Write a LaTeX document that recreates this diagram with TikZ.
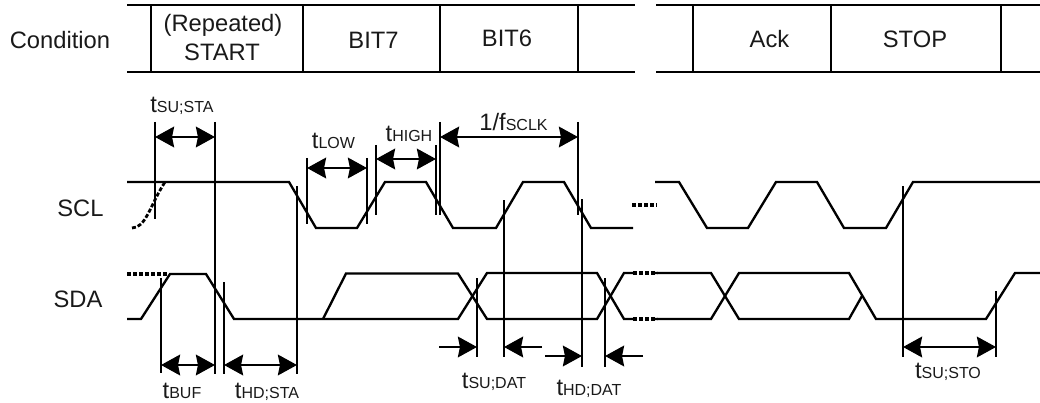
\documentclass[tikz,border=0pt]{standalone}
\usepackage{fontspec}
\setmainfont{Liberation Sans}
\usetikzlibrary{arrows.meta}
\newcommand{\bigtxt}{\fontsize{17.8pt}{21pt}\selectfont}
\newcommand{\smalltxt}{\fontsize{12pt}{14pt}\selectfont}
\newcommand{\tlab}[2]{{\bigtxt #1}{\smalltxt #2}}
\tikzset{
  sig/.style={line width=1.75pt,line join=miter,black},
  dashsig/.style={line width=2.1pt,black,dash pattern=on 3pt off 1.5pt},
  dashflat/.style={line width=2.7pt,black,dash pattern=on 3.2pt off 1.3pt},
  ext/.style={line width=1.65pt,black},
  dim/.style={line width=1.65pt,black,{Stealth[length=14.3pt,width=15.5pt,inset=1.5pt]}-{Stealth[length=14.3pt,width=15.5pt,inset=1.5pt]}},
  onedim/.style={line width=1.65pt,black,-{Stealth[length=14.3pt,width=15.5pt,inset=1.5pt]}},
  lab/.style={anchor=base,inner sep=0pt,outer sep=0pt,black!90},
}
\begin{document}
\begin{tikzpicture}[x=0.75pt,y=-0.75pt]
\useasboundingbox (0,0) rectangle (1040,403);
% condition table
\draw[sig] (127,5) -- (635,5) (127,72) -- (635,72);
\draw[sig] (656,5) -- (1040,5) (656,72) -- (1040,72);
\foreach \x in {151,303,440,578,693,831,1001} \draw[sig] (\x,5) -- (\x,72);
\node[lab] (cond) at (60,49) {\bigtxt Condition};
\node[lab] (rep) at (223,32) {\bigtxt (Repeated)};
\node[lab] (start) at (222,61) {\bigtxt START};
\node[lab] (b7) at (373.5,49) {\bigtxt BIT7};
\node[lab] (b6) at (507,47) {\bigtxt BIT6};
\node[lab] (ack) at (769.5,48) {\bigtxt Ack};
\node[lab] (stop) at (915,48) {\bigtxt STOP};
\node[lab] (scl) at (80.5,216) {\bigtxt SCL};
\node[lab] (sda) at (78,307) {\bigtxt SDA};
% SCL
\draw[sig] (127,182) -- (289,182) -- (316,228) -- (357,228) -- (385,182) -- (426,182) -- (453,228) -- (496,228) -- (523,182) -- (564,182) -- (591,228) -- (633,228);
\draw[dashflat] (632,205) -- (657,205);
\draw[sig] (655,182) -- (679,182) -- (707,228) -- (748,228) -- (776,182) -- (817,182) -- (844,228) -- (886,228) -- (913,182) -- (1040,182);
\draw[dashsig] (132,228) .. controls (146,228) and (150,205) .. (165,182);
% SDA
\draw[dashflat] (127,274) -- (167,274);
\draw[sig] (127,319) -- (141,319) -- (170,274) -- (206,274) -- (234,319) -- (458,319) -- (487,273) -- (597,273) -- (624,319) -- (634,319);
\draw[sig] (323,319) -- (346,273.5) -- (458,273.5) -- (487,319) -- (597,319) -- (624,273) -- (634,273);
\draw[dashflat] (633,273) -- (657,273) (633,319) -- (657,319);
\draw[sig] (655,273) -- (711,273) -- (739,319) -- (849,319) -- (862,296);
\draw[sig] (655,319) -- (711,319) -- (739,273) -- (849,273) -- (876,319) -- (986,319) -- (1015,273) -- (1040,273);
% extension lines
\draw[ext] (155,122) -- (155,219);
\draw[ext] (215,122) -- (215,374);
\draw[ext] (307,158) -- (307,224);
\draw[ext] (367,158) -- (367,224);
\draw[ext] (376,145) -- (376,215);
\draw[ext] (436,145) -- (436,215);
\draw[ext] (440,122) -- (440,215);
\draw[ext] (578,122) -- (578,215);
\draw[ext] (297,186) -- (297,374);
\draw[ext] (161,278) -- (161,373);
\draw[ext] (224,282) -- (224,374);
\draw[ext] (477,278) -- (477,357);
\draw[ext] (504,200) -- (504,357);
\draw[ext] (582,199) -- (582,367);
\draw[ext] (605,278) -- (605,367);
\draw[ext] (903,186) -- (903,357);
\draw[ext] (996,291) -- (996,357);
% dimension arrows
\draw[dim] (155,137) -- (215,137);
\draw[dim] (307,168) -- (367,168);
\draw[dim] (376,159) -- (436,159);
\draw[dim] (440,137) -- (578,137);
\draw[dim] (161,365) -- (215,365);
\draw[dim] (224,365) -- (297,365);
\draw[dim] (903,347) -- (996,347);
\draw[onedim] (439,347) -- (477,347);
\draw[onedim] (542,347) -- (504,347);
\draw[onedim] (545,356) -- (582,356);
\draw[onedim] (643,356) -- (605,356);
% labels
\node[lab] (lsusta) at (182,113) {\tlab{t}{SU;STA}};
\node[lab] (llow) at (333.5,148) {\tlab{t}{LOW}};
\node[lab] (lhigh) at (409,142) {\tlab{t}{HIGH}};
\node[lab] (lsclk) at (513.5,131) {\tlab{1/f}{SCLK}};
\node[lab] (lbuf) at (182,398) {\tlab{t}{BUF}};
\node[lab] (lhdsta) at (267,398) {\tlab{t}{HD;STA}};
\node[lab] (lsudat) at (494,388) {\tlab{t}{SU;DAT}};
\node[lab] (lhddat) at (589,395) {\tlab{t}{HD;DAT}};
\node[lab] (lsusto) at (948,378) {\tlab{t}{SU;STO}};
\end{tikzpicture}
\end{document}
